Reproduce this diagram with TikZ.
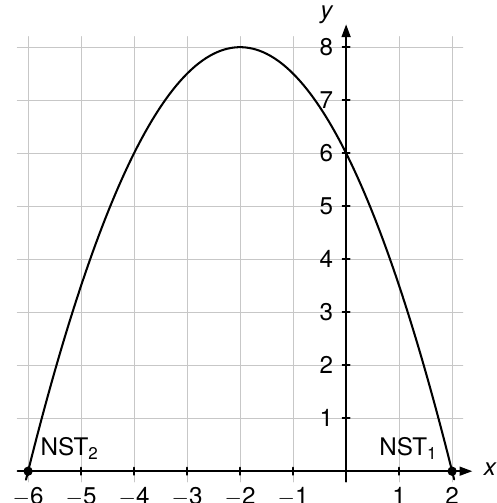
\documentclass[tikz,border=0pt]{standalone}
\usepackage{fontspec}
\setmainfont{TeX Gyre Heros}
\usetikzlibrary{arrows.meta}

\begin{document}
\begin{tikzpicture}[>={Triangle[length=2.4mm,width=1.7mm]},line cap=round,
  font=\fontsize{13}{15}\selectfont,
  gridline/.style={black!22,line width=.6pt},
  axisline/.style={line width=.8pt},
  curve/.style={line width=1.1pt},
  dot/.style={circle,inner sep=0pt,minimum size=5pt,fill=black},
  info/.style={inner sep=0pt}]
\path[use as bounding box] (-6.53,-0.6) rectangle (2.83,8.89);
\fill[white] (-6.53,-0.6) rectangle (2.83,8.89);
\draw[gridline] (-6.2,-0.2) grid (2.2,8.2);

% axes
\coordinate (xs) at (-6.2,0);
\coordinate (xe) at (2.38,0);
\coordinate (ys) at (0,-0.2);
\coordinate (ye) at (0,8.43);
\draw[axisline,->] (xs) -- (xe);
\draw[axisline,->] (ys) -- (ye);
\node[info] (xlab) at (2.72,0.03) {\textit{x}};
\node[info] (ylab) at (-0.36,8.62) {\textit{y}};

% ticks and numbers
\foreach \i in {-6,...,-1,1,2}
  \draw[axisline] (\i,-0.07) -- (\i,0.07);
\foreach \j in {1,...,8}
  \draw[axisline] (-0.07,\j) -- (0.07,\j);
\foreach \i in {1,...,6}
  \node[info,anchor=base] (xm\i) at (-\i,-0.62) {$-$\i};
\foreach \i in {1,2}
  \node[info,anchor=base] (xp\i) at (\i,-0.62) {\i};
\foreach \j in {1,...,8}
  \node[info,anchor=east] (yn\j) at (-0.24,\j) {\j};

% parabola y = -x^2/2 - 2x + 6
\draw[curve,domain=-6.04:2.04,samples=120,smooth]
  plot (\x,{-0.5*\x*\x-2*\x+6});
\node[dot] (n2) at (-6,0) {};
\node[dot] (n1) at (2,0) {};
\node[info,anchor=base west] (l2) at (-5.77,0.30) {NST\textsubscript{2}};
\node[info,anchor=base west] (l1) at (0.62,0.30) {NST\textsubscript{1}};
\end{tikzpicture}
\end{document}
